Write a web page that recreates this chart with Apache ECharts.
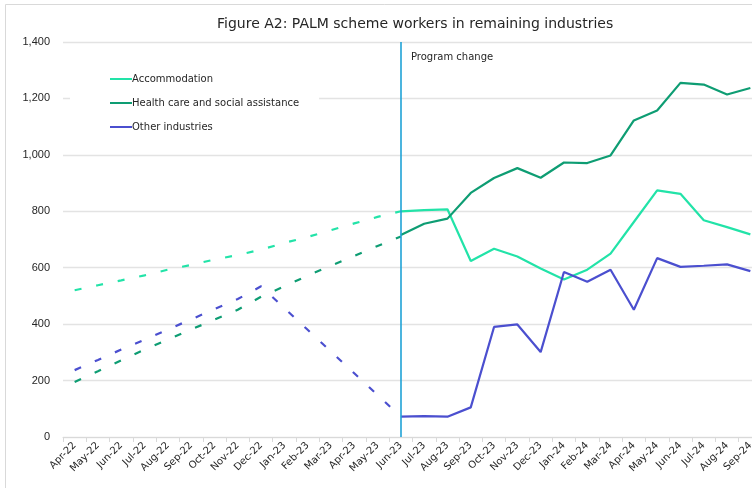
<!DOCTYPE html>
<html>
<head>
<meta charset="utf-8">
<script src="https://cdn.jsdelivr.net/npm/echarts@6/dist/echarts.min.js"></script>
<style>
html,body{margin:0;padding:0;background:#fff;overflow:hidden;width:752px;height:488px;}
#c{width:762px;height:488px;}
</style>
</head>
<body>
<div id="c"></div>
<script>
const months = ['Apr-22','May-22','Jun-22','Jul-22','Aug-22','Sep-22','Oct-22','Nov-22','Dec-22','Jan-23','Feb-23','Mar-23','Apr-23','May-23','Jun-23','Jul-23','Aug-23','Sep-23','Oct-23','Nov-23','Dec-23','Jan-24','Feb-24','Mar-24','Apr-24','May-24','Jun-24','Jul-24','Aug-24','Sep-24'];
const seriesNames = ['Accommodation','Health care and social assistance','Other industries'];
// dashed (pre program change) values, Apr-22 .. Jun-23
const accomPre  = [520,538,555,573,593,610,629,645,664,688,709,733,757,780,800];
const healthPre = [195,233,272,310,345,381,416,451,497,534,572,607,642,677,711];
const otherPre  = [237,273,310,345,381,417,453,489,534,457,380,303,226,149,72];
// solid (post program change) values, Jun-23 .. Sep-24
const accomPost  = [800,804,807,624,667,640,597,558,593,650,762,874,862,768,744,718];
const healthPost = [716,756,774,865,918,953,919,973,971,998,1122,1157,1255,1249,1214,1237];
const otherPost  = [72,74,72,105,390,399,301,585,550,593,451,634,603,607,612,588];
const yTicks = {min:0, max:1400, interval:200};
const changeMonth = 'Jun-23';
const changeLabel = 'Program change';
const titleText = 'Figure A2: PALM scheme workers in remaining industries';

const colors = ['#22e3a8','#0e9d73','#4b4fcf'];
const changeIdx = months.indexOf(changeMonth);
function pre(arr){ return months.map((m,i)=> i < arr.length ? arr[i] : null); }
function post(arr){ return months.map((m,i)=> i >= changeIdx ? arr[i-changeIdx] : null); }

const chart = echarts.init(document.getElementById('c'), null, {renderer:'canvas'});
const pres = [accomPre, healthPre, otherPre];
const posts = [accomPost, healthPost, otherPost];
const series = [];
for (let k=0;k<3;k++){
  series.push({
    name: seriesNames[k]+' (pre)', type:'line', data: pre(pres[k]), symbol:'none',
    lineStyle:{color:colors[k], width:2.2, type:[7,15]}, itemStyle:{color:colors[k]},
    silent:true, z:2
  });
}
for (let k=0;k<3;k++){
  series.push({
    name: seriesNames[k], type:'line', data: post(posts[k]), symbol:'none',
    lineStyle:{color:colors[k], width:2.2}, itemStyle:{color:colors[k]}, z:3
  });
}
series[3].markLine = {
  silent:true, symbol:['none','none'],
  lineStyle:{color:'#1fa2d6', width:1.6, type:'solid'},
  label:{show:false},
  data:[[{coord:[changeIdx, yTicks.max]},{coord:[changeIdx+0.13, yTicks.min]}]]
};

chart.setOption({
  animation:false,
  backgroundColor:'#fff',
  title:{text:titleText, left:212, top:12,
    textStyle:{fontFamily:'DejaVu Sans', fontSize:14, fontWeight:'normal', color:'#262626'}},
  legend:{
    data:seriesNames, orient:'vertical', left:70, top:65,
    padding:[8,20,8,40], backgroundColor:'#fff',
    icon:'rect', itemWidth:22, itemHeight:2, itemGap:12,
    textStyle:{fontFamily:'DejaVu Sans', fontSize:10, lineHeight:12, color:'#262626', padding:[0,0,0,-5]}
  },
  grid:{left:63, right:0, top:42, bottom:51},
  xAxis:{
    type:'category', data:months, boundaryGap:true,
    axisLine:{lineStyle:{color:'#d9d9d9', width:1}},
    axisTick:{show:true, interval:0, length:5, lineStyle:{color:'#d9d9d9'}},
    axisLabel:{interval:0, rotate:45, margin:7, fontFamily:'DejaVu Sans', fontSize:10, color:'#262626'}
  },
  yAxis:{
    type:'value', min:yTicks.min, max:yTicks.max, interval:yTicks.interval,
    axisLine:{show:false}, axisTick:{show:false},
    splitLine:{lineStyle:{color:'#e3e3e3', width:1.3}},
    axisLabel:{margin:13, fontFamily:'Liberation Sans', fontSize:11, color:'#262626',
      formatter:v=>v.toLocaleString('en-US')}
  },
  graphic:[
    {type:'line', shape:{x1:5.5,y1:4.5,x2:770,y2:4.5}, style:{stroke:'#d9d9d9', lineWidth:1}, silent:true},
    {type:'line', shape:{x1:5.5,y1:4.5,x2:5.5,y2:488}, style:{stroke:'#d9d9d9', lineWidth:1}, silent:true},
    {type:'text', left:411, top:52, style:{text:changeLabel, fontFamily:'DejaVu Sans', fontSize:10, fill:'#262626'}}
  ],
  series:series
});
</script>
</body>
</html>
